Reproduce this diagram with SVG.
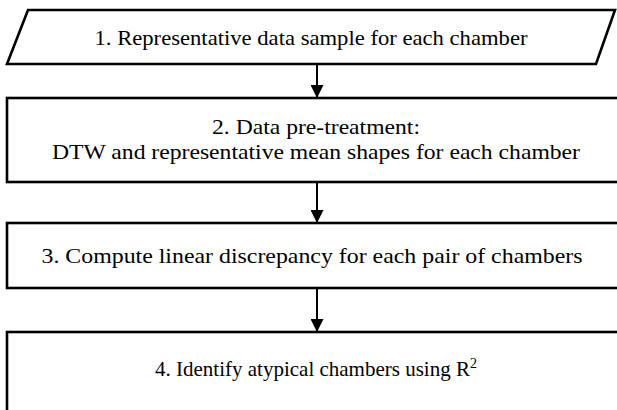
<svg xmlns="http://www.w3.org/2000/svg" width="617" height="410" viewBox="0 0 617 410">
  <defs>
    <style>
      .shape { fill: #ffffff; stroke: #000000; stroke-width: 2.6; stroke-linejoin: miter; }
      .label { font-family: "Liberation Serif", "Times New Roman", serif; font-size: 21px; fill: #000000; text-anchor: middle; }
      .link { stroke: #000000; stroke-width: 2; fill: none; }
    </style>
    <marker id="arrowhead" markerWidth="13" markerHeight="13" refX="12" refY="6.5" orient="auto" markerUnits="userSpaceOnUse">
      <path d="M0,0 L13,6.5 L0,13 Z" fill="#000000"/>
    </marker>
  </defs>
  <rect width="617" height="410" fill="#ffffff"/>

  <g id="connectors">
    <line class="link" x1="317" y1="65" x2="317" y2="97" marker-end="url(#arrowhead)"/>
    <line class="link" x1="317" y1="182" x2="317" y2="222" marker-end="url(#arrowhead)"/>
    <line class="link" x1="317" y1="288" x2="317" y2="331" marker-end="url(#arrowhead)"/>
  </g>

  <g id="step1">
    <polygon class="shape" points="28,10 615,10 596,64 7,64"/>
    <text class="label" x="311" y="45" textLength="433" lengthAdjust="spacingAndGlyphs">1. Representative data sample for each chamber</text>
  </g>

  <g id="step2">
    <rect class="shape" x="7" y="98" width="620" height="84"/>
    <text class="label" x="316" y="134" textLength="208" lengthAdjust="spacingAndGlyphs">2. Data pre-treatment:</text>
    <text class="label" x="316" y="159" textLength="528" lengthAdjust="spacingAndGlyphs">DTW and representative mean shapes for each chamber</text>
  </g>

  <g id="step3">
    <rect class="shape" x="7" y="223" width="620" height="65"/>
    <text class="label" x="312" y="263" textLength="541" lengthAdjust="spacingAndGlyphs">3. Compute linear discrepancy for each pair of chambers</text>
  </g>

  <g id="step4">
    <rect class="shape" x="7" y="332" width="620" height="100"/>
    <text class="label" x="316" y="376">4. Identify atypical chambers using R<tspan dy="-8" font-size="14">2</tspan></text>
  </g>
</svg>
